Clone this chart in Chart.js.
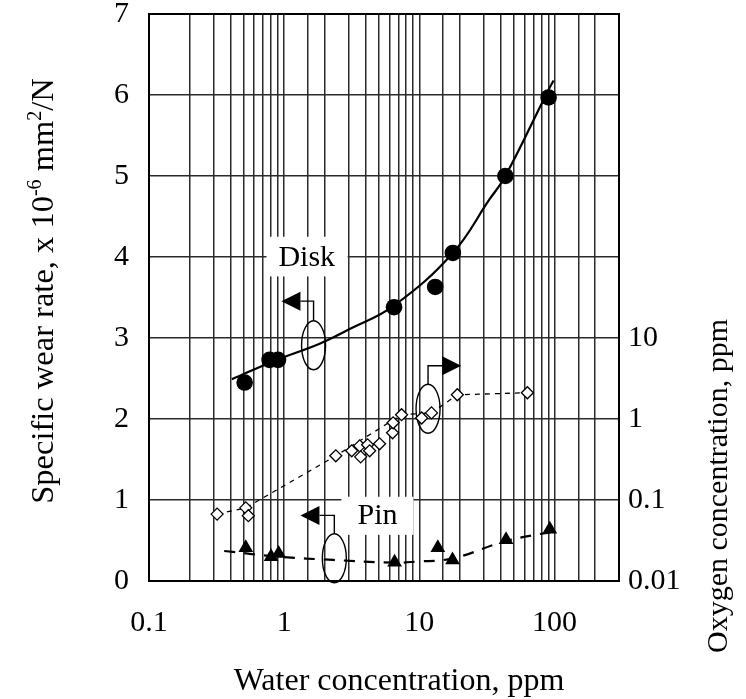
<!DOCTYPE html>
<html>
<head>
<meta charset="utf-8">
<script src="https://cdn.jsdelivr.net/npm/chart.js@4/dist/chart.umd.min.js"></script>
<style>
  html, body { margin: 0; padding: 0; background: #fff; }
  #wrap { width: 746px; height: 699px; position: relative; }
</style>
</head>
<body>
<div id="wrap"><canvas id="c"></canvas></div>
<script>
// Disk: specific wear rate (x 10^-6 mm^2/N) against water concentration (ppm)
const diskWater = [0.51, 0.78, 0.90, 6.5, 13.1, 17.7, 43.3, 90.4];
const diskWear  = [2.45, 2.73, 2.73, 3.38, 3.63, 4.05, 5.00, 5.97];

// Disk trend curve
const diskFitWater = [0.41, 0.85, 1.83, 3.05, 6.5, 17.7, 33, 43, 90, 98.5];
const diskFitWear  = [2.49, 2.72, 2.93, 3.11, 3.40, 4.05, 4.71, 4.99, 6.06, 6.18];

// Pin: specific wear rate against water concentration
const pinWater = [0.52, 0.80, 0.91, 6.56, 13.7, 17.6, 43.8, 92.3];
const pinWear  = [0.41, 0.30, 0.34, 0.23, 0.41, 0.26, 0.51, 0.64];

// Pin trend curve
const pinFitWater = [0.36, 0.915, 2.30, 6.56, 9.49, 17.7, 43.8, 96.8];
const pinFitWear  = [0.37, 0.30, 0.26, 0.226, 0.239, 0.28, 0.494, 0.609];

// Oxygen concentration (ppm, right axis) against water concentration
const oxWater = [0.319, 0.52, 0.543, 2.41, 3.16, 3.62, 3.68, 4.14, 4.29, 5.08, 6.34, 6.40, 7.39, 10.4, 12.3, 19.1, 63];
const oxPpm   = [0.067, 0.080, 0.064, 0.351, 0.405, 0.466, 0.341, 0.480, 0.405, 0.494, 0.675, 0.897, 1.13, 1.03, 1.19, 1.99, 2.11];

// Oxygen guide line
const oxFitWater = [0.319, 0.52, 2.41, 7.39, 12.3, 19.1, 63];
const oxFitPpm   = [0.067, 0.080, 0.351, 1.13, 1.19, 1.99, 2.11];

// Axis tick labels
const xTickLabels  = ['0.1', '1', '10', '100'];
const y2TickLabels = ['0.01', '0.1', '1', '10'];

const FONT = 'Liberation Serif';

function pts(xs, ys) { return xs.map((v, i) => ({ x: v, y: ys[i] })); }

// Series callouts: label, pointer arrow and ring (positions in water ppm / left-axis units)
const callouts = [
  { text: 'Disk', at: { x: 1.47, y: 3.99 }, box: { x0: 0.74, x1: 2.95, y0: 3.76, y1: 4.25 },
    tip: { x: 0.955, y: 3.455 }, dir: 'left', ring: { x: 1.65, y: 2.91 } },
  { tip: { x: 20.4, y: 2.658 }, dir: 'right', ring: { x: 11.6, y: 2.126 } },
  { text: 'Pin', at: { x: 4.91, y: 0.80 }, box: { x0: 2.65, x1: 9.06, y0: 0.57, y1: 1.04 },
    tip: { x: 1.32, y: 0.81 }, dir: 'left', ring: { x: 2.35, y: 0.28 } }
];

const overlay = {
  id: 'overlay',
  beforeDatasetsDraw(chart) {
    const { ctx, scales: { x, y } } = chart;
    const px = v => x.getPixelForValue(v);
    const py = v => y.getPixelForValue(v);
    const RX = 12, RY = 24.5, AL = 19, AH = 9.5;
    ctx.save();
    for (const c of callouts) {
      if (c.box) {
        ctx.fillStyle = '#fff';
        const x0 = px(c.box.x0), x1 = px(c.box.x1), y0 = py(c.box.y1), y1 = py(c.box.y0);
        ctx.fillRect(x0, y0, x1 - x0, y1 - y0);
      }
      if (c.text) {
        ctx.fillStyle = '#000';
        ctx.font = '30px "' + FONT + '"';
        ctx.textAlign = 'center';
        ctx.textBaseline = 'middle';
        ctx.fillText(c.text, px(c.at.x), py(c.at.y));
      }
      const ex = px(c.ring.x), ey = py(c.ring.y);
      ctx.strokeStyle = '#000';
      ctx.lineWidth = 1.4;
      ctx.beginPath();
      ctx.ellipse(ex, ey, RX, RY, 0, 0, Math.PI * 2);
      ctx.stroke();
      const tx = px(c.tip.x), ty = py(c.tip.y);
      const bx = tx + (c.dir === 'left' ? AL : -AL);
      ctx.beginPath();
      ctx.moveTo(bx, ty);
      ctx.lineTo(ex, ty);
      ctx.lineTo(ex, ey - RY);
      ctx.stroke();
      ctx.fillStyle = '#000';
      ctx.beginPath();
      ctx.moveTo(tx, ty);
      ctx.lineTo(bx, ty - AH);
      ctx.lineTo(bx, ty + AH);
      ctx.closePath();
      ctx.fill();
    }
    const a = chart.chartArea;
    ctx.strokeStyle = '#000';
    ctx.lineWidth = 2;
    ctx.strokeRect(a.left, a.top, a.right - a.left, a.bottom - a.top);
    ctx.restore();
  },
  afterDraw(chart) {
    const { ctx } = chart;
    ctx.save();
    ctx.fillStyle = '#000';
    // bottom title
    ctx.font = '32px "' + FONT + '"';
    ctx.textAlign = 'center';
    ctx.textBaseline = 'alphabetic';
    ctx.fillText('Water concentration, ppm', 399, 690);

    // right title
    ctx.save();
    ctx.font = '30px "' + FONT + '"';
    ctx.translate(719, 486);
    ctx.rotate(-Math.PI / 2);
    ctx.textBaseline = 'middle';
    ctx.fillText('Oxygen concentration, ppm', 0, 0);
    ctx.restore();

    // left title with superscripts
    const parts = [
      ['Specific wear rate, x 10', false],
      ['-6', true],
      [' mm', false],
      ['2', true],
      ['/N', false]
    ];
    const big = '32.5px "' + FONT + '"', small = '20px "' + FONT + '"';
    let w = 0;
    for (const [t, sup] of parts) { ctx.font = sup ? small : big; w += ctx.measureText(t).width; }
    ctx.save();
    ctx.translate(42, 291);
    ctx.rotate(-Math.PI / 2);
    ctx.textAlign = 'left';
    ctx.textBaseline = 'alphabetic';
    let cx = -w / 2;
    for (const [t, sup] of parts) {
      ctx.font = sup ? small : big;
      ctx.fillText(t, cx, sup ? -1 : 11);
      cx += ctx.measureText(t).width;
    }
    ctx.restore();
    ctx.restore();
  }
};

const tickFont = { family: FONT, size: 30 };
const gridColor = '#2a2a2a';

function pickLabel(list) {
  return function (value) {
    const s = String(+Number(value).toPrecision(6));
    return list.includes(s) ? s : '';
  };
}

function fixVertical(width) {
  return function (s) { s.width = width; s.paddingTop = 0; s.paddingBottom = 0; };
}

new Chart(document.getElementById('c'), {
  type: 'scatter',
  data: {
    datasets: [
      { label: 'Disk', data: pts(diskWater, diskWear), yAxisID: 'y', order: 0,
        pointStyle: 'circle', pointRadius: 8.3, backgroundColor: '#000', borderColor: '#000', borderWidth: 0 },
      { label: 'Pin', data: pts(pinWater, pinWear), yAxisID: 'y', order: 0,
        pointStyle: 'triangle', pointRadius: 8.5, backgroundColor: '#000', borderColor: '#000', borderWidth: 0 },
      { label: 'Oxygen', data: pts(oxWater, oxPpm), yAxisID: 'y2', order: 0,
        pointStyle: 'rectRot', pointRadius: 6, backgroundColor: '#fff', borderColor: '#000', borderWidth: 1.3 },
      { label: 'Disk trend', data: pts(diskFitWater, diskFitWear), yAxisID: 'y', order: 1,
        showLine: true, pointRadius: 0, borderColor: '#000', borderWidth: 2.2, tension: 0.4 },
      { label: 'Pin trend', data: pts(pinFitWater, pinFitWear), yAxisID: 'y', order: 1,
        showLine: true, pointRadius: 0, borderColor: '#000', borderWidth: 2.2, borderDash: [11, 9],
        tension: 0.4 },
      { label: 'Oxygen trend', data: pts(oxFitWater, oxFitPpm), yAxisID: 'y2', order: 1,
        showLine: true, pointRadius: 0, borderColor: '#000', borderWidth: 1.3, borderDash: [5, 5], tension: 0 }
    ]
  },
  options: {
    responsive: true,
    maintainAspectRatio: false,
    animation: false,
    events: [],
    layout: { padding: { top: 14, left: 0, right: 0, bottom: 0 } },
    plugins: { legend: { display: false }, tooltip: { enabled: false } },
    scales: {
      x: {
        type: 'logarithmic', position: 'bottom', min: 0.1, max: 300,
        grid: { color: gridColor, lineWidth: 1.5, drawTicks: false },
        border: { display: true, color: '#000', width: 2 },
        ticks: { autoSkip: false, maxRotation: 0, padding: 24, color: '#000', font: tickFont,
                 callback: pickLabel(xTickLabels) },
        afterFit(s) { s.height = 118; s.paddingLeft = 0; s.paddingRight = 0; }
      },
      y: {
        type: 'linear', position: 'left', min: 0, max: 7,
        grid: { color: gridColor, lineWidth: 1.5, drawTicks: false },
        border: { display: true, color: '#000', width: 2 },
        ticks: { stepSize: 1, padding: 20, color: '#000', font: tickFont },
        afterFit: fixVertical(149)
      },
      y2: {
        type: 'logarithmic', position: 'right', min: 0.01, max: 100000,
        grid: { display: false, drawTicks: false },
        border: { display: true, color: '#000', width: 2 },
        ticks: { autoSkip: false, padding: 9, color: '#000', font: tickFont,
                 callback: pickLabel(y2TickLabels) },
        afterFit: fixVertical(127)
      }
    }
  },
  plugins: [overlay]
});
</script>
</body>
</html>
